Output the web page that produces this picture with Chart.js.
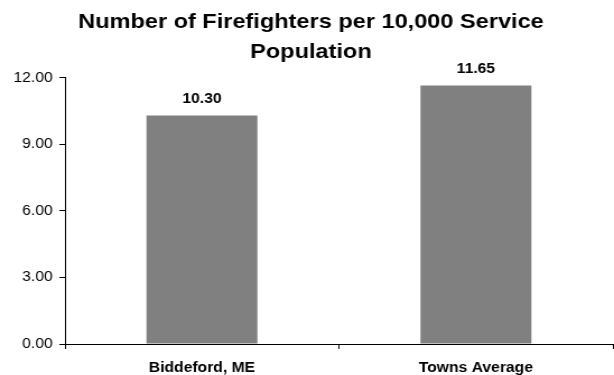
<!DOCTYPE html>
<html>
<head>
<meta charset="utf-8">
<script src="https://cdn.jsdelivr.net/npm/chart.js@4/dist/chart.umd.min.js"></script>
<style>
  html, body { margin: 0; padding: 0; background: #fff; overflow: hidden; }
  #wrap { width: 614px; height: 375px; }
  /* drawing surface is laid out narrower and shown stretched to full width */
  #c { display: block; width: 614px !important; height: 375px !important; }
</style>
</head>
<body>
<div id="wrap"><canvas id="c" width="548" height="375" style="width:614px;height:375px"></canvas></div>
<script>
const categories = ["Biddeford, ME", "Towns Average"];
const firefightersPer10k = [10.30, 11.65];
const titleLines = ["Number of Firefighters per 10,000 Service", "Population"];
const yTicks = { min: 0, max: 12, step: 3 };

const FONT = "'Liberation Sans', Arial, sans-serif";

// Bold value printed above each bar
const barValueLabels = {
  id: 'barValueLabels',
  afterDatasetsDraw(chart) {
    const ctx = chart.ctx;
    const meta = chart.getDatasetMeta(0);
    ctx.save();
    ctx.font = "bold 14px " + FONT;
    ctx.fillStyle = "#000";
    ctx.textAlign = "center";
    ctx.textBaseline = "middle";
    meta.data.forEach((bar, i) => {
      const v = chart.data.datasets[0].data[i];
      ctx.fillText(v.toFixed(2), bar.x, bar.y - 16);
    });
    ctx.restore();
  }
};

new Chart(document.getElementById('c'), {
  type: 'bar',
  data: {
    labels: categories,
    datasets: [{
      data: firefightersPer10k,
      backgroundColor: '#808080',
      borderWidth: 0,
      barPercentage: 0.81,
      categoryPercentage: 0.5
    }]
  },
  options: {
    responsive: false,
    devicePixelRatio: 1,
    animation: false,
    layout: { padding: { left: 8, right: 1, top: 0, bottom: 0 } },
    plugins: {
      legend: { display: false },
      tooltip: { enabled: false },
      title: {
        display: true,
        text: titleLines,
        color: '#000',
        font: { family: FONT, size: 21, weight: 'bold', lineHeight: 1.4 },
        padding: { top: 8, bottom: 11 }
      }
    },
    scales: {
      x: {
        grid: {
          offset: true,
          drawOnChartArea: false,
          drawTicks: true,
          tickLength: 5,
          color: '#000'
        },
        border: { color: '#000', width: 1 },
        ticks: {
          color: '#000',
          font: { family: FONT, size: 14, weight: 'bold' },
          padding: 11,
          maxRotation: 0
        },
        afterFit(scale) { scale.height = 31; }
      },
      y: {
        min: yTicks.min,
        max: yTicks.max,
        grid: {
          drawOnChartArea: false,
          drawTicks: true,
          tickLength: 5,
          color: '#000'
        },
        border: { color: '#000', width: 1 },
        ticks: {
          stepSize: yTicks.step,
          color: '#000',
          font: { family: FONT, size: 14 },
          padding: 6,
          callback: (v) => Number(v).toFixed(2)
        },
        afterFit(scale) { scale.width = 50; }
      }
    }
  },
  plugins: [barValueLabels]
});
</script>
</body>
</html>
